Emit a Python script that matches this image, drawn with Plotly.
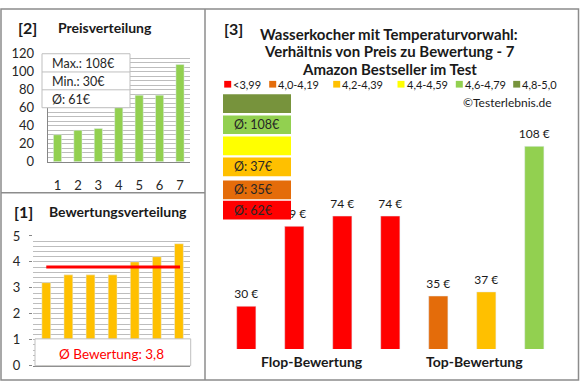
import plotly.graph_objects as go

W, H = 580, 390
def px(x): return x / W
def py(y): return 1 - y / H

# ---------------- data ----------------
prices = [30, 69, 74, 74, 35, 37, 108]          # main chart order
ratings = [3.2, 3.5, 3.5, 3.5, 4.0, 4.2, 4.7]   # rating of each product
groups = ["Flop-Bewertung", "Top-Bewertung"]
bin_labels = ["<3,99", "4,0-4,19", "4,2-4,39", "4,4-4,59", "4,6-4,79", "4,8-5,0"]
bin_colors = ["#FF0000", "#E46C0A", "#FFC000", "#FFFF00", "#92D050", "#77933C"]
bin_lower = [0, 4.0, 4.2, 4.4, 4.6, 4.8]
title_lines = ["Wasserkocher mit Temperaturvorwahl:",
               "Verhältnis von Preis zu Bewertung - 7",
               "Amazon Bestseller im Test"]

def bin_of(r):
    idx = 0
    for i, lo in enumerate(bin_lower):
        if r >= lo:
            idx = i
    return idx

bins = [bin_of(r) for r in ratings]
bar_colors = [bin_colors[b] for b in bins]
n = len(prices)
xs = list(range(1, n + 1))
prices_sorted = sorted(prices)
ratings_sorted = sorted(ratings)
avg_rating = sum(ratings) / n
avg_price = sum(prices) / n

FONT = "Lato"
DARK = "#1a1a1a"
TICK = "#262626"
GRID = "#BDBDBD"
AXIS = "#868686"
BORDER = "#8C8C8C"

fig = go.Figure()

# [2] price distribution
fig.add_trace(go.Bar(x=xs, y=prices_sorted, width=0.4, marker_color="#92D050",
                     xaxis="x", yaxis="y", hoverinfo="skip"))
# [1] rating distribution
fig.add_trace(go.Bar(x=xs, y=ratings_sorted, width=0.4, marker_color="#FFC000",
                     xaxis="x2", yaxis="y2", hoverinfo="skip"))
fig.add_trace(go.Scatter(x=[1, 7.05], y=[avg_rating, avg_rating], mode="lines",
                         line=dict(color="#FF0000", width=3),
                         xaxis="x2", yaxis="y2", hoverinfo="skip"))
# [3] main chart
fig.add_trace(go.Bar(x=xs, y=prices, width=0.4, marker_color=bar_colors,
                     xaxis="x3", yaxis="y3", hoverinfo="skip"))
fig.add_trace(go.Scatter(x=xs, y=prices, mode="markers+text",
                         text=[f"{p} €" for p in prices], textposition="top center",
                         textfont=dict(family=FONT, size=12, color=DARK),
                         marker=dict(size=7, color="rgba(0,0,0,0)"),
                         cliponaxis=False, xaxis="x3", yaxis="y3", hoverinfo="skip"))

axis_common = dict(zeroline=False, tickfont=dict(family=FONT, size=13, color=TICK))

fig.update_layout(
    width=W, height=H, margin=dict(l=0, r=0, t=0, b=0),
    paper_bgcolor="white", plot_bgcolor="white", showlegend=False,
    font=dict(family=FONT, color=DARK),
    xaxis=dict(domain=[px(47.7), px(190)], range=[0.52, 7.49], tickvals=xs, ticks="",
               showgrid=False, showline=True, linecolor=AXIS, anchor="y",
               ticklabelstandoff=12, **axis_common),
    yaxis=dict(domain=[py(160.3), py(47.7)], range=[0, 120], dtick=20, ticks="",
               showgrid=True, gridcolor=GRID, showline=True, linecolor=AXIS,
               minor=dict(dtick=5, showgrid=True, gridcolor=GRID),
               anchor="x", ticklabelstandoff=10, **axis_common),
    xaxis2=dict(domain=[px(33), px(190)], range=[0.4, 7.5], showticklabels=False, ticks="",
                showgrid=False, showline=True, linecolor=AXIS, anchor="y2", **axis_common),
    yaxis2=dict(domain=[py(373), py(237.7)], range=[0, 5], dtick=1,
                ticks="outside", ticklen=3, tickcolor=AXIS,
                showgrid=True, gridcolor=GRID, showline=False,
                minor=dict(dtick=0.2, showgrid=True, gridcolor=GRID),
                anchor="x2", ticklabelstandoff=6, **axis_common),
    xaxis3=dict(domain=[px(222.3), px(558.3)], range=[0.5, 7.5], visible=False, anchor="y3"),
    yaxis3=dict(domain=[py(355.7), py(129.3)], range=[9.1, 115], visible=False, anchor="x3"),
)

shapes = []
ann = []

def text(x, y, s, size=12, bold=False, color=DARK, xanchor="center"):
    ann.append(dict(x=px(x), y=py(y), xref="paper", yref="paper", text=(f"<b>{s}</b>" if bold else s),
                    showarrow=False, xanchor=xanchor, yanchor="middle", borderpad=0,
                    font=dict(family=FONT, size=size, color=color)))

def rect(x0, y0, x1, y1, fill=None, line=None, width=1):
    shapes.append(dict(type="rect", xref="paper", yref="paper",
                       x0=px(x0), y0=py(y0), x1=px(x1), y1=py(y1), layer="above",
                       fillcolor=fill if fill else "rgba(0,0,0,0)",
                       line=dict(color=line if line else "rgba(0,0,0,0)", width=width if line else 0)))

# panel borders
rect(1, 1, 578.5, 388, line=BORDER, width=1.5)
shapes.append(dict(type="line", xref="paper", yref="paper", x0=px(205), x1=px(205), y0=py(1), y1=py(388),
                   line=dict(color=BORDER, width=1.5), layer="above"))
shapes.append(dict(type="line", xref="paper", yref="paper", x0=px(1), x1=px(205), y0=py(192.7), y1=py(192.7),
                   line=dict(color=BORDER, width=1.5), layer="above"))

# panel titles
text(27, 20.5, "[2]", size=16, bold=True)
text(57, 20, "Preisverteilung", size=14, bold=True, xanchor="left")
text(23, 212.5, "[1]", size=16, bold=True)
text(48, 212, "Bewertungsverteilung", size=14, bold=True, xanchor="left")
text(233, 21, "[3]", size=16, bold=True)
for i, line in enumerate(title_lines):
    text(389, 27 + i * 18.3, line, size=15, bold=True)

# price stat box
rect(42, 47.7, 130, 104, fill="white", line="#BFBFBF")
shapes.append(dict(type="line", xref="paper", yref="paper", x0=px(42), x1=px(130), y0=py(66.7), y1=py(66.7),
                   line=dict(color="#BFBFBF", width=1), layer="above"))
shapes.append(dict(type="line", xref="paper", yref="paper", x0=px(42), x1=px(130), y0=py(85.3), y1=py(85.3),
                   line=dict(color="#BFBFBF", width=1), layer="above"))
text(51, 58, f"Max.: {max(prices)}€", size=12.5, color="#262626", xanchor="left")
text(51, 77, f"Min.: {min(prices)}€", size=12.5, color="#262626", xanchor="left")
text(51, 95.5, f"Ø: {round(avg_price)}€", size=12.5, color="#262626", xanchor="left")

# rating avg box
rect(35, 345, 190.7, 373, fill="white", line="#BFBFBF")
text(111.5, 361, "Ø Bewertung: " + f"{avg_rating:.1f}".replace(".", ","), size=13.5, color="#FF0000")

# legend row
leg_sq = [227.7, 272.7, 336.7, 401, 459.3, 516.7]
for xq, lab, col in zip(leg_sq, bin_labels, bin_colors):
    rect(xq - 3.5, 76, xq + 3.5, 83, fill=col)
    text(xq + 4.5, 79.5, lab, size=11, xanchor="left")

text(553, 99, "©Testerlebnis.de", size=12, xanchor="right")

# stacked group-average boxes (top: best bin)
box_tops = [90, 112, 134, 156, 180, 201]
box_h = 19.5
for k, b in enumerate(range(len(bin_labels) - 1, -1, -1)):
    y0 = box_tops[k]
    rect(223, y0, 291, y0 + box_h, fill=bin_colors[b])
    vals = [p for p, bb in zip(prices, bins) if bb == b]
    if vals:
        text(233, y0 + box_h / 2, f"Ø: {round(sum(vals) / len(vals))}€", size=12.5, color="#262626", xanchor="left")

# group labels
text(312, 369, groups[0], size=14, bold=True)
text(474, 369, groups[1], size=14, bold=True)

fig.update_layout(shapes=shapes, annotations=ann)
fig.write_html("out.html", config={"displayModeBar": False},
               post_script="document.body.style.margin='0';")
